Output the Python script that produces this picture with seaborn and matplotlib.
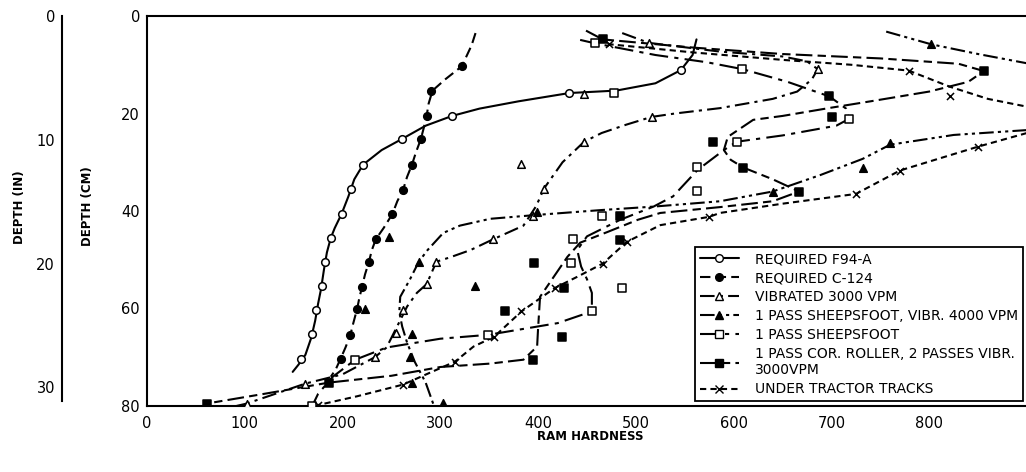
import numpy as np
import pandas as pd
import matplotlib
matplotlib.use("Agg")
import matplotlib.pyplot as plt
import seaborn as sns
from matplotlib.lines import Line2D
from matplotlib.legend_handler import HandlerLine2D

# ---------------- data (ram hardness, depth cm) ----------------
# REQUIRED F94-A : solid curve + open circles
f94_curve_h = [562, 558, 546, 520, 480, 432, 380, 340, 312, 285, 261, 240, 221, 212, 206, 199, 192, 188, 184, 181, 178, 175, 172, 168, 162, 155, 149]
f94_curve_d = [4.8, 8, 11.1, 13.8, 15.3, 15.8, 17.5, 19, 20.5, 22.5, 25.2, 27.5, 30.5, 33.5, 37, 40.6, 43.5, 45.5, 48.5, 52, 56, 59, 62.5, 66, 69.5, 71.5, 73]
f94_pts_h = [546, 432, 312, 261, 221, 209, 199, 188, 182, 179, 173, 169, 158]
f94_pts_d = [11.1, 15.8, 20.5, 25.2, 30.5, 35.5, 40.6, 45.5, 50.4, 55.3, 60.4, 65.2, 70.3]

# REQUIRED C-124 : dashed curve + filled circles
c124_curve_h = [336, 332, 322, 305, 292, 288, 286, 283, 280, 275, 271, 266, 262, 256, 251, 242, 234, 230, 227, 223, 220, 217, 215, 211, 208, 203, 198, 193, 188]
c124_curve_d = [3.5, 6, 10.3, 13, 15.3, 18, 20.5, 23, 25.3, 28, 30.5, 33, 35.6, 38, 40.6, 43.5, 45.8, 48, 50.4, 53, 55.5, 58, 60, 63, 65.4, 68, 70.3, 72.5, 74]
c124_pts_h = [322, 290, 286, 280, 271, 262, 251, 234, 227, 220, 215, 208, 198]
c124_pts_d = [10.3, 15.3, 20.5, 25.3, 30.5, 35.6, 40.6, 45.8, 50.4, 55.5, 60, 65.4, 70.3]

# VIBRATED 3000 VPM : dash-dot curve + open triangles
vib_curve_h = [486, 513, 586, 650, 675, 686, 680, 665, 640, 586, 540, 516, 490, 465, 447, 425, 406, 398, 385, 354, 331, 310, 296, 286, 276, 266, 256, 245, 233, 200, 162, 102, 85]
vib_curve_d = [3.5, 5.5, 7.3, 8.3, 9.3, 10.9, 13, 15.5, 17, 18.9, 20, 20.7, 22.3, 24, 25.8, 30, 35.4, 39, 43, 45.8, 48, 49.5, 50.4, 55, 56.8, 59.6, 63.6, 68, 70, 73.5, 75.4, 79.5, 80.3]
vib_pts_h = [513, 686, 516, 447, 447, 383, 406, 395, 354, 296, 286, 262, 255, 233, 162, 102]
vib_pts_d = [5.5, 10.9, 20.7, 16, 25.8, 30.3, 35.4, 41.1, 45.8, 50.4, 55, 60.4, 65.1, 70, 75.4, 79.5]

# 1 PASS SHEEPSFOOT, VIBR. 4000 VPM : dash-dot-dot curve + filled triangles
sv_top_h = [756, 802, 850, 900]
sv_top_d = [3.2, 5.8, 7.8, 9.7]
sv_curve_h = [900, 825, 760, 732, 689, 640, 586, 518, 465, 399, 351, 320, 303, 287, 278, 269, 259, 258, 261, 266, 274, 285, 293]
sv_curve_d = [23.4, 24.4, 26.4, 29.3, 32.6, 36, 38, 39.1, 39.8, 40.8, 41.6, 43, 44.5, 48, 50.4, 54, 57.6, 60.7, 63.7, 67, 71, 75.2, 79.7]
sv_pts_h = [802, 760, 732, 640, 399, 247, 278, 335, 223, 271, 269, 271, 303]
sv_pts_d = [5.8, 26, 31.1, 36, 40.2, 45.3, 50.4, 55.3, 60.2, 65.3, 70, 75.2, 79.3]

# 1 PASS SHEEPSFOOT : dash-dot curve + open squares
sf_curve_h = [443, 458, 520, 573, 609, 655, 698, 715, 718, 705, 650, 603, 590, 563, 538, 518, 484, 450, 440, 444, 450, 455, 455, 420, 349, 300, 245, 213, 190, 175, 169]
sf_curve_d = [4.9, 5.6, 8, 9.5, 10.9, 13.5, 16.5, 19, 21.1, 22.5, 24.5, 25.8, 27.5, 31.6, 37, 39.1, 41.8, 45.2, 48, 51.4, 54, 56.8, 60.6, 63, 65.4, 66.2, 68, 70.5, 74, 77.5, 80]
sf_pts_h = [458, 478, 609, 718, 603, 563, 563, 465, 436, 434, 486, 455, 349, 213, 169]
sf_pts_d = [5.6, 15.8, 10.9, 21.1, 25.8, 30.9, 35.8, 41, 45.7, 50.6, 55.8, 60.6, 65.5, 70.5, 80]

# 1 PASS COR. ROLLER, 2 PASSES VIBR. 3000 VPM : long-dash curve + filled squares
cr_curve_h = [449, 466, 560, 650, 750, 830, 856, 840, 800, 740, 700, 650, 620, 594, 590, 597, 610, 640, 667, 640, 586, 525, 502, 471, 443, 430, 416, 402, 400, 399, 385, 351, 300, 250, 186, 120, 61]
cr_curve_d = [3, 4.8, 6.5, 7.8, 8.7, 9.8, 11.3, 13.5, 15.5, 17.5, 18.8, 20.5, 21.3, 24.8, 27.5, 29.5, 31.1, 33.5, 36, 38, 39.2, 40.4, 41.8, 44.3, 46.5, 49.4, 53.5, 57.6, 64, 67.8, 70.5, 71.3, 72, 73.8, 75.2, 77.5, 79.5]
cr_pts_h = [466, 856, 698, 701, 579, 610, 667, 484, 484, 396, 426, 366, 424, 395, 186, 61]
cr_pts_d = [4.8, 11.3, 16.5, 20.8, 25.8, 31.1, 36, 41.1, 46, 50.6, 55.7, 60.6, 65.8, 70.5, 75.2, 79.5]

# UNDER TRACTOR TRACKS : short-dash curve + x
ut_top_h = [462, 473, 560, 650, 720, 779, 821, 860, 900]
ut_top_d = [4.5, 5.8, 7.5, 9, 10, 11.2, 14.5, 17, 18.6]
ut_curve_h = [900, 850, 770, 725, 650, 586, 575, 525, 491, 466, 440, 417, 383, 355, 334, 315, 262, 215, 175]
ut_curve_d = [24, 26.8, 31.7, 36.5, 38.5, 40.4, 41.2, 42.9, 46.3, 50.8, 53.5, 55.8, 60.6, 65.8, 67.8, 70.9, 75.6, 78, 79.8]
ut_pts_h = [473, 779, 821, 850, 770, 725, 575, 491, 466, 417, 383, 355, 315, 262, 175]
ut_pts_d = [5.8, 11.2, 16.5, 26.8, 31.7, 36.5, 41.2, 46.3, 50.8, 55.8, 60.6, 65.8, 70.9, 75.6, 79.8]

x_ticks = [0, 100, 200, 300, 400, 500, 600, 700, 800]
cm_ticks = [0, 20, 40, 60, 80]
in_ticks = [0, 10, 20, 30]

labels = ["REQUIRED F94-A", "REQUIRED C-124", "VIBRATED 3000 VPM",
          "1 PASS SHEEPSFOOT, VIBR. 4000 VPM", "1 PASS SHEEPSFOOT",
          "1 PASS COR. ROLLER, 2 PASSES VIBR.\n3000VPM", "UNDER TRACTOR TRACKS"]

# ---------------- styles ----------------
LS_SOLID = "-"
LS_DASH = (0, (5, 2.5))
LS_DASHDOT = (0, (7, 2.5, 1.5, 2.5))
LS_DASHDOTDOT = (0, (7, 2, 1.5, 2, 1.5, 2))
LS_DASHDOT2 = (0, (9, 3, 2, 3))
LS_LONGDASH = (0, (8, 2.5, 4, 2.5))
LS_SHORT = (0, (3, 2))
LW = 1.5

sns.set_theme(style="white")
plt.rcParams["font.family"] = ["DejaVu Sans"]
plt.rcParams["text.color"] = "black"
plt.rcParams["xtick.color"] = "black"
plt.rcParams["ytick.color"] = "black"

fig = plt.figure(figsize=(10.26, 4.72), dpi=100)
ax = fig.add_axes([147 / 1026, 1 - 406 / 472, 879 / 1026, 390 / 472])


def curve(h, d, ls):
    df = pd.DataFrame({"h": h, "d": d})
    sns.lineplot(data=df, x="h", y="d", sort=False, estimator=None, ax=ax,
                 color="black", linewidth=LW, linestyle=ls, zorder=2)


def pts(h, d, marker, face):
    df = pd.DataFrame({"h": h, "d": d})
    if marker == "x":
        sns.scatterplot(data=df, x="h", y="d", ax=ax, marker="x", s=26,
                        color="black", linewidth=1.1, zorder=4)
    else:
        sns.scatterplot(data=df, x="h", y="d", ax=ax, marker=marker, s=30,
                        facecolor=face, edgecolor="black", linewidth=1.1, zorder=4)


curve(f94_curve_h, f94_curve_d, LS_SOLID)
pts(f94_pts_h, f94_pts_d, "o", "white")
curve(c124_curve_h, c124_curve_d, LS_DASH)
pts(c124_pts_h, c124_pts_d, "o", "black")
curve(vib_curve_h, vib_curve_d, LS_DASHDOT)
pts(vib_pts_h, vib_pts_d, "^", "white")
curve(sv_top_h, sv_top_d, LS_DASHDOTDOT)
curve(sv_curve_h, sv_curve_d, LS_DASHDOTDOT)
pts(sv_pts_h, sv_pts_d, "^", "black")
curve(sf_curve_h, sf_curve_d, LS_DASHDOT2)
pts(sf_pts_h, sf_pts_d, "s", "white")
curve(cr_curve_h, cr_curve_d, LS_LONGDASH)
pts(cr_pts_h, cr_pts_d, "s", "black")
curve(ut_top_h, ut_top_d, LS_SHORT)
curve(ut_curve_h, ut_curve_d, LS_SHORT)
pts(ut_pts_h, ut_pts_d, "x", None)

ax.set_xlim(0, 899)
ax.set_ylim(80, 0)
ax.set_xticks(x_ticks)
ax.set_xticklabels([str(v) for v in x_ticks])
ax.set_yticks(cm_ticks)
ax.set_yticklabels([str(v) for v in cm_ticks])
ax.tick_params(direction="in", length=8, width=1.2, labelsize=10.5,
               colors="black", labelcolor="black", pad=5)
ax.tick_params(axis="x", pad=7)
for s in ["left", "bottom", "top"]:
    ax.spines[s].set_visible(True)
    ax.spines[s].set_color("black")
    ax.spines[s].set_linewidth(1.5)
ax.spines["right"].set_visible(False)
ax.set_xlabel("")
ax.set_ylabel("")
ax.grid(False)

# inch axis
ax2 = fig.add_axes([62 / 1026, 1 - 406 / 472, 0.001, 390 / 472])
ax2.set_ylim(80 / 2.54, 0)
ax2.set_xticks([])
ax2.set_yticks(in_ticks)
ax2.set_yticklabels([str(v) for v in in_ticks])
for s in ["right", "bottom", "top"]:
    ax2.spines[s].set_visible(False)
ax2.spines["left"].set_color("black")
ax2.spines["left"].set_linewidth(1.5)
ax2.spines["left"].set_bounds(0, 31.1)
ax2.tick_params(direction="in", length=8, width=1.2, labelsize=10.5,
                colors="black", labelcolor="black", pad=5)
ax2.patch.set_alpha(0)
ax2.grid(False)

fig.text(20 / 1026, 1 - 207 / 472, "DEPTH (IN)", rotation=90, ha="center", va="center",
         fontsize=8.5, fontweight="bold", color="black")
fig.text(88 / 1026, 1 - 206 / 472, "DEPTH (CM)", rotation=90, ha="center", va="center",
         fontsize=8.5, fontweight="bold", color="black")
fig.text(590 / 1026, 1 - 437 / 472, "RAM HARDNESS", ha="center", va="center",
         fontsize=8.5, fontweight="bold", color="black")


class RightMarker(HandlerLine2D):
    def get_xdata(self, legend, xdescent, ydescent, width, height, fontsize):
        xdata = np.array([-xdescent, -xdescent + width * 0.82])
        xm = np.array([-xdescent + width])
        return xdata, xm


handles = [
    Line2D([], [], color="black", lw=LW, ls=LS_SOLID, marker="o", mfc="white", mec="black", ms=5.5),
    Line2D([], [], color="black", lw=LW, ls=LS_DASH, marker="o", mfc="black", mec="black", ms=5.5),
    Line2D([], [], color="black", lw=LW, ls=LS_DASHDOT, marker="^", mfc="white", mec="black", ms=6),
    Line2D([], [], color="black", lw=LW, ls=LS_DASHDOTDOT, marker="^", mfc="black", mec="black", ms=6),
    Line2D([], [], color="black", lw=LW, ls=LS_DASHDOT2, marker="s", mfc="white", mec="black", ms=5.5),
    Line2D([], [], color="black", lw=LW, ls=LS_LONGDASH, marker="s", mfc="black", mec="black", ms=6),
    Line2D([], [], color="black", lw=LW, ls=LS_SHORT, marker="x", mfc="black", mec="black", ms=5.5),
]
leg = ax.legend(handles, labels, loc="lower right", bbox_to_anchor=(0.997, 0.012),
                handler_map={Line2D: RightMarker(numpoints=1)},
                frameon=True, fancybox=False, edgecolor="black", framealpha=1,
                fontsize=10, handlelength=3.4, handletextpad=0.6, labelspacing=0.36,
                borderpad=0.35, borderaxespad=0)
for t in leg.get_texts():
    t.set_color("black")
leg.get_frame().set_linewidth(1.3)
leg.set_zorder(10)

fig.savefig("out.png", dpi=100, facecolor="white")
